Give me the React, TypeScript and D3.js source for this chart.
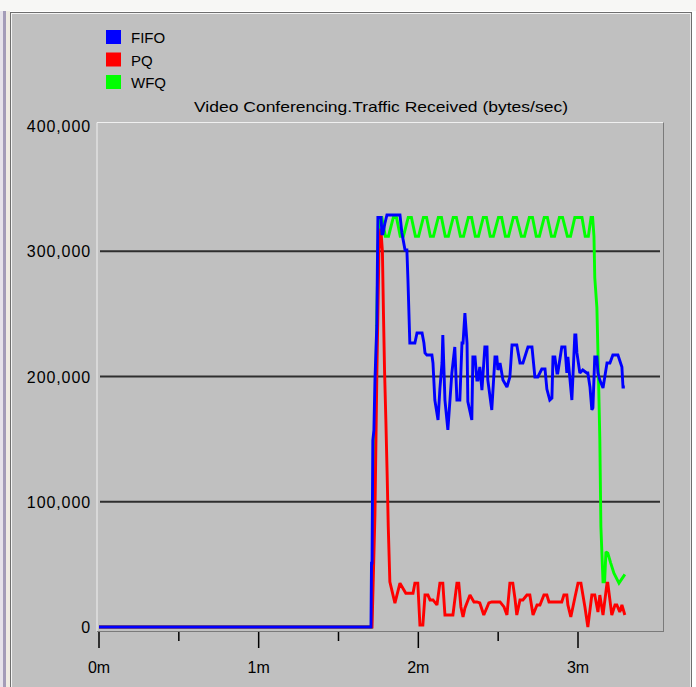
import React from "react";
import * as d3 from "d3";

// time in seconds, values in bytes/sec
const fifo: [number, number][] = [
  [0, 0], [101.8, 0], [102.2, 0], [102.4, 51000], [102.6, 51000], [102.9, 149000], [103.3, 157000],
  [103.7, 197000], [104.4, 241000], [104.6, 285000], [104.8, 327000], [106.0, 327000], [106.3, 314000],
  [106.7, 314000], [107.4, 322000], [108.2, 329000], [113.1, 329000], [113.8, 315000], [115.0, 301000],
  [115.7, 301000], [116.1, 277000], [116.8, 226700], [118.7, 226700], [119.5, 234700], [121.4, 234700],
  [122.1, 226700], [122.5, 218800], [123.2, 217200], [125.1, 217200], [125.5, 210800], [126.2, 181200],
  [127.4, 165300], [128.1, 190000], [128.9, 210800], [129.2, 233100], [130.0, 181200], [131.1, 157300],
  [132.6, 202800], [133.7, 223600], [134.5, 181200], [135.6, 181200], [136.4, 226700], [136.8, 226700],
  [137.5, 250700], [138.3, 226700], [138.6, 180000], [140.1, 165300], [140.5, 215600], [141.3, 215600],
  [142.0, 197200], [142.4, 197200], [143.1, 207600], [143.9, 189200], [145.0, 223600], [145.8, 223600],
  [146.1, 197200], [147.6, 173300], [148.8, 215600], [149.5, 215600], [149.9, 205200], [150.7, 210800],
  [151.8, 197200], [153.3, 191600], [154.4, 199600], [155.2, 225100], [157.0, 225100], [158.2, 210800],
  [159.3, 210800], [161.2, 223600], [162.7, 223600], [163.8, 199600], [164.9, 199600], [166.4, 206000],
  [167.6, 206000], [168.3, 190000], [169.4, 181200], [170.2, 182800], [170.6, 215600], [171.3, 215600],
  [172.1, 202800], [172.4, 202800], [173.9, 223600], [175.1, 223600], [175.8, 202800], [176.2, 215600],
  [177.7, 181200], [178.8, 233100], [179.2, 233100], [179.6, 218800], [180.7, 202800], [181.8, 205200],
  [183.3, 202800], [183.7, 202800], [184.5, 191600], [185.2, 173300], [185.6, 174900], [186.3, 215600],
  [187.1, 215600], [187.5, 202800], [188.2, 197200], [189.4, 190800], [190.9, 210800], [192.0, 210800],
  [193.1, 217200], [195.0, 217200], [196.5, 207600], [196.9, 191600], [197.6, 191600],
];

const pq: [number, number][] = [
  [0, 0], [102.6, 0], [103.7, 90000], [104.4, 200000], [105.2, 300000], [105.9, 318000], [106.5, 300000],
  [106.9, 250000], [107.3, 205000], [107.8, 165000], [108.3, 120000], [108.7, 80000], [109.3, 36000], [111.2, 19000],
  [113.1, 35000], [115.3, 27000], [118.0, 27000], [118.7, 35000], [119.8, 35000], [120.6, 1600],
  [121.7, 1600], [122.5, 25500], [123.6, 25500], [124.4, 21600], [125.5, 21600], [127.0, 17600],
  [128.1, 35000], [129.2, 35000], [130.0, 9600], [133.0, 9600], [134.5, 35000], [135.2, 35000],
  [136.0, 16000], [136.8, 8000], [137.5, 15000], [139.4, 25500], [140.9, 20000], [142.0, 20000],
  [143.1, 19200], [144.6, 9600], [146.5, 19200], [147.6, 20000], [150.7, 20000], [152.2, 16000],
  [153.3, 9600], [154.4, 35000], [155.5, 35000], [156.3, 23000], [157.0, 9600], [158.2, 21600],
  [159.3, 21600], [160.8, 25500], [161.9, 25500], [163.1, 9600], [164.6, 17600], [165.7, 17600],
  [167.2, 25500], [168.3, 25500], [169.1, 20000], [173.9, 20000], [174.7, 25500], [175.8, 25500],
  [176.2, 17600], [177.3, 8000], [178.8, 23200], [180.0, 35000], [181.1, 35000], [182.6, 16000],
  [183.7, 0], [185.2, 25500], [186.3, 25500], [187.5, 12000], [188.2, 25500], [189.4, 9600],
  [190.9, 35000], [191.2, 35000], [192.7, 9600], [193.9, 17600], [194.6, 17600], [195.7, 12000],
  [196.5, 17600], [197.6, 9600],
];

const wfq: [number, number][] = [
  [0, 0], [102.4, 0], [103.5, 120000], [104.4, 250000], [105.2, 327000], [106.3, 327000], [107.6, 312000],
  [108.8, 312000], [110.6, 327000], [111.8, 327000], [113.2, 312000], [114.4, 312000], [116.2, 327000],
  [117.4, 327000], [118.9, 312000], [120.1, 312000], [121.9, 327000], [123.1, 327000], [124.5, 312000],
  [125.7, 312000], [127.5, 327000], [128.7, 327000], [130.1, 312000], [131.3, 312000], [133.1, 327000],
  [134.3, 327000], [135.8, 312000], [137.0, 312000], [138.8, 327000], [140.0, 327000], [141.4, 312000],
  [142.6, 312000], [144.4, 327000], [145.6, 327000], [147.0, 312000], [148.2, 312000], [150.1, 327000],
  [151.3, 327000], [152.7, 312000], [153.9, 312000], [155.7, 327000], [156.9, 327000], [158.7, 312000],
  [159.9, 312000], [161.7, 327000], [162.9, 327000], [164.3, 312000], [165.5, 312000], [167.3, 327000],
  [168.5, 327000], [170.0, 312000], [171.2, 312000], [173.0, 327000], [174.2, 327000], [176.0, 312000],
  [177.2, 312000], [178.8, 327000], [181.5, 327000], [182.7, 312000], [183.9, 312000], [184.9, 327000],
  [185.5, 327000], [186.0, 312000], [186.3, 279000], [187.1, 255000], [187.5, 219000], [188.2, 150000],
  [188.6, 80000], [189.4, 36000], [190.0, 36000], [190.5, 60000], [191.2, 59000], [192.3, 51000],
  [193.5, 43000], [195.4, 35000], [197.3, 41000], [197.6, 42000],
];

const seriesNames = ["FIFO", "PQ", "WFQ"];
const seriesColors = ["#0000ff", "#ff0000", "#00ff00"];
const yTicks = [0, 100000, 200000, 300000, 400000];
const gridValues = [100000, 200000, 300000];
const xMajorTicks = [0, 60, 120, 180];
const xMinorTicks = [30, 90, 150];
const xTickLabels = ["0m", "1m", "2m", "3m"];
const title = "Video Conferencing.Traffic Received (bytes/sec)";

const W = 696;
const H = 687;

export default function App() {
  const x = d3.scaleLinear().domain([0, 180]).range([99, 578]);
  const y = d3.scaleLinear().domain([0, 400000]).range([627, 126]);
  const line = d3
    .line<[number, number]>()
    .x((d) => x(d[0]))
    .y((d) => y(d[1]));
  const fmt = d3.format(",");
  const plotL = 97, plotR = 663.5, plotT = 122.5, plotB = 631.5;
  const font = "'Liberation Sans', Arial, sans-serif";
  const drawOrder = [2, 1, 0];
  const data = [fifo, pq, wfq];

  return (
    <svg
      width={W}
      height={H}
      style={{ position: "absolute", left: 0, top: 0, display: "block" }}
    >
      <rect x={0} y={0} width={W} height={H} fill="#ffffff" />
      {/* faded background at left */}
      <rect x={0} y={0} width={3} height={H} fill="#e6e2ea" />
      <rect x={3} y={0} width={3} height={H} fill="#a49cb8" />
      <rect x={6} y={0} width={4} height={H} fill="#efebe2" />
      <rect x={0} y={0} width={W} height={11} fill="#f7f7f5" />
      {/* panel */}
      <rect x={10} y={12} width={682} height={675} fill="#c0c0c0" />
      <line x1={10.5} y1={12} x2={10.5} y2={H} stroke="#6e6e6e" />
      <line x1={10} y1={12.5} x2={692} y2={12.5} stroke="#6e6e6e" />
      <line x1={11.5} y1={13} x2={11.5} y2={H} stroke="#f4f4f4" />
      <line x1={11} y1={13.5} x2={691} y2={13.5} stroke="#f4f4f4" />
      <line x1={691.5} y1={12} x2={691.5} y2={H} stroke="#6e6e6e" />
      <line x1={690.5} y1={13} x2={690.5} y2={H} stroke="#e8e8e8" />

      {/* legend */}
      {seriesNames.map((n, i) => (
        <g key={n}>
          <rect x={106} y={30 + i * 22.5} width={15} height={14} fill={seriesColors[i]} />
          <text
            x={131}
            y={43 + i * 22.5}
            fontFamily={font}
            fontSize={15}
            fill="#000"
          >
            {n}
          </text>
        </g>
      ))}

      {/* title */}
      <text
        x={381}
        y={112}
        textAnchor="middle"
        fontFamily={font}
        fontSize={15}
        fill="#000"
        textLength={374}
        lengthAdjust="spacingAndGlyphs"
      >
        {title}
      </text>

      {/* plot frame */}
      <line x1={plotL} y1={plotT} x2={plotR} y2={plotT} stroke="#f0f0f0" />
      <line x1={plotL} y1={plotT} x2={plotL} y2={plotB} stroke="#f0f0f0" />
      <line x1={plotR} y1={plotT} x2={plotR} y2={plotB + 0.5} stroke="#7a7a7a" />
      <line x1={plotL} y1={plotB} x2={plotR} y2={plotB} stroke="#7a7a7a" />

      {/* grid */}
      {gridValues.map((v) => (
        <line
          key={v}
          x1={100}
          x2={660}
          y1={y(v)}
          y2={y(v)}
          stroke="#2e2e2e"
          strokeWidth={2}
        />
      ))}

      {/* y labels */}
      {yTicks.map((v) => (
        <text
          key={v}
          x={91}
          y={y(v) + 6}
          textAnchor="end"
          fontFamily={font}
          fontSize={16}
          letterSpacing={0.9}
          fill="#000"
        >
          {fmt(v)}
        </text>
      ))}

      {/* x ticks */}
      {xMajorTicks.map((t, i) => (
        <g key={t}>
          <line x1={x(t)} x2={x(t)} y1={632} y2={648} stroke="#000" strokeWidth={1.5} />
          <text
            x={x(t)}
            y={673}
            textAnchor="middle"
            fontFamily={font}
            fontSize={16}
            fill="#000"
          >
            {xTickLabels[i]}
          </text>
        </g>
      ))}
      {xMinorTicks.map((t) => (
        <line key={t} x1={x(t)} x2={x(t)} y1={632} y2={641} stroke="#000" strokeWidth={1.5} />
      ))}

      {/* series */}
      {drawOrder.map((i) => (
        <path
          key={seriesNames[i]}
          d={line(data[i]) || ""}
          fill="none"
          stroke={seriesColors[i]}
          strokeWidth={2.9}
          strokeLinejoin="miter"
          strokeMiterlimit={2}
        />
      ))}
    </svg>
  );
}
